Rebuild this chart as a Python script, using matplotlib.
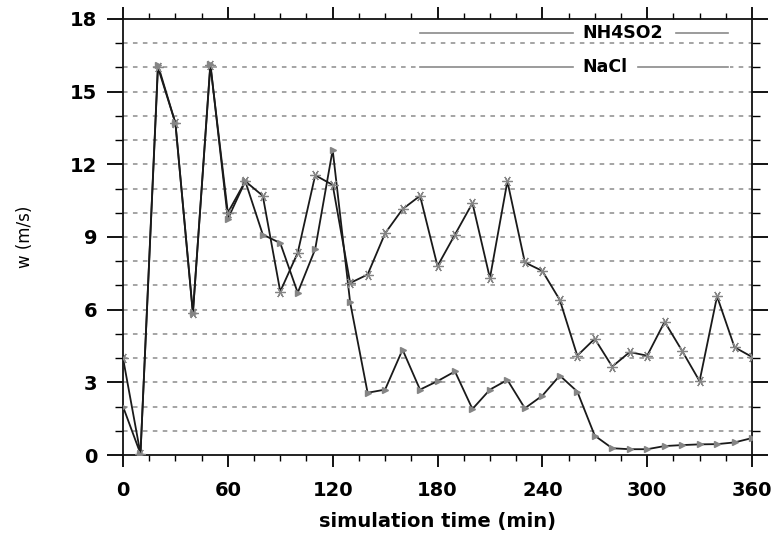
import matplotlib
matplotlib.use("Agg")
import matplotlib.pyplot as plt
from matplotlib.ticker import MultipleLocator
from matplotlib.patches import Rectangle

# ---- data ----
time_min = list(range(0, 361, 10))
nh4so2 = [4.0, 0.05, 16.0, 13.7, 5.85, 16.1, 10.0, 11.3, 10.7, 6.75,
          8.35, 11.55, 11.15, 7.1, 7.45, 9.15, 10.15, 10.7, 7.8, 9.1,
          10.4, 7.3, 11.3, 7.95, 7.6, 6.4, 4.1, 4.8, 3.65, 4.25,
          4.1, 5.5, 4.3, 3.05, 6.55, 4.45, 4.05]
nacl = [2.0, 0.05, 16.1, 13.7, 5.85, 16.15, 9.75, 11.3, 9.1, 8.75,
        6.7, 8.5, 12.6, 6.3, 2.57, 2.7, 4.35, 2.7, 3.05, 3.45,
        1.9, 2.7, 3.1, 1.93, 2.45, 3.28, 2.62, 0.8, 0.28, 0.24,
        0.24, 0.37, 0.41, 0.44, 0.45, 0.52, 0.7]
series_labels = ["NH4SO2", "NaCl"]
x_ticks = [0, 60, 120, 180, 240, 300, 360]
y_ticks = [0, 3, 6, 9, 12, 15, 18]

fig = plt.figure(figsize=(7.8, 5.33), dpi=100)
ax = fig.add_axes([0.1577, 0.1463, 0.8064, 0.8181])

line_col = "#1a1a1a"
mk_col = "#858585"

ax.plot(time_min, nacl, color=line_col, lw=1.3, marker=">", ms=5,
        mfc=mk_col, mec=mk_col, zorder=4)
ax.plot(time_min, nh4so2, color=line_col, lw=1.3, marker=(6, 2, 90), ms=7.5,
        mew=0.9, mec=mk_col, zorder=5)

ax.set_xlim(0, 360)
ax.set_ylim(0, 18)
ax.set_xticks(x_ticks)
ax.set_yticks(y_ticks)
ax.xaxis.set_minor_locator(MultipleLocator(15))
ax.yaxis.set_minor_locator(MultipleLocator(1))

# dashed horizontal grid at every integer
for yv in range(1, 18):
    ax.axhline(yv, color="#8c8c8c", lw=1.1, ls=(0, (3.0, 3.5)), zorder=1)

tick_font = dict(family="DejaVu Sans", weight="bold", size=14)
ax.set_xticklabels([str(v) for v in x_ticks], fontdict=tick_font)
ax.set_yticklabels([str(v) for v in y_ticks], fontdict=tick_font)

ax.tick_params(axis="x", which="major", direction="out", length=8.5, width=1.3,
               top=True, bottom=True, pad=10)
ax.tick_params(axis="x", which="minor", direction="out", length=4, width=1.0,
               top=True, bottom=True)
ax.tick_params(axis="y", which="major", direction="out", length=11.5, width=1.3,
               left=True, right=True, pad=7)
ax.tick_params(axis="y", which="minor", direction="out", length=6, width=1.0,
               left=True, right=True)

for s in ax.spines.values():
    s.set_linewidth(1.3)
    s.set_color("#111111")

ax.set_xlabel("simulation time (min)", fontsize=14, fontweight="bold",
              family="DejaVu Sans", labelpad=9)
ax.set_ylabel("w (m/s)", fontsize=12, family="DejaVu Sans", labelpad=26)

# legend drawn NCL-style: line - label - line
T = ax.transAxes
ax.add_patch(Rectangle((0.47, 0.875), 0.495, 0.03, transform=T,
                       facecolor="white", edgecolor="none", zorder=2))
leg_rows = [(0.968, series_labels[0], 0.879), (0.890, series_labels[1], 0.819)]
for yy, lab, rstart in leg_rows:
    ax.plot([0.472, 0.715], [yy, yy], transform=T, color="#8a8a8a", lw=1.2, zorder=3)
    ax.plot([rstart, 0.962], [yy, yy], transform=T, color="#8a8a8a", lw=1.2, zorder=3)
    ax.text(0.731, yy, lab, transform=T, ha="left", va="center",
            fontsize=12.5, fontweight="bold", family="DejaVu Sans", zorder=3)

fig.savefig("out.png", dpi=100)
